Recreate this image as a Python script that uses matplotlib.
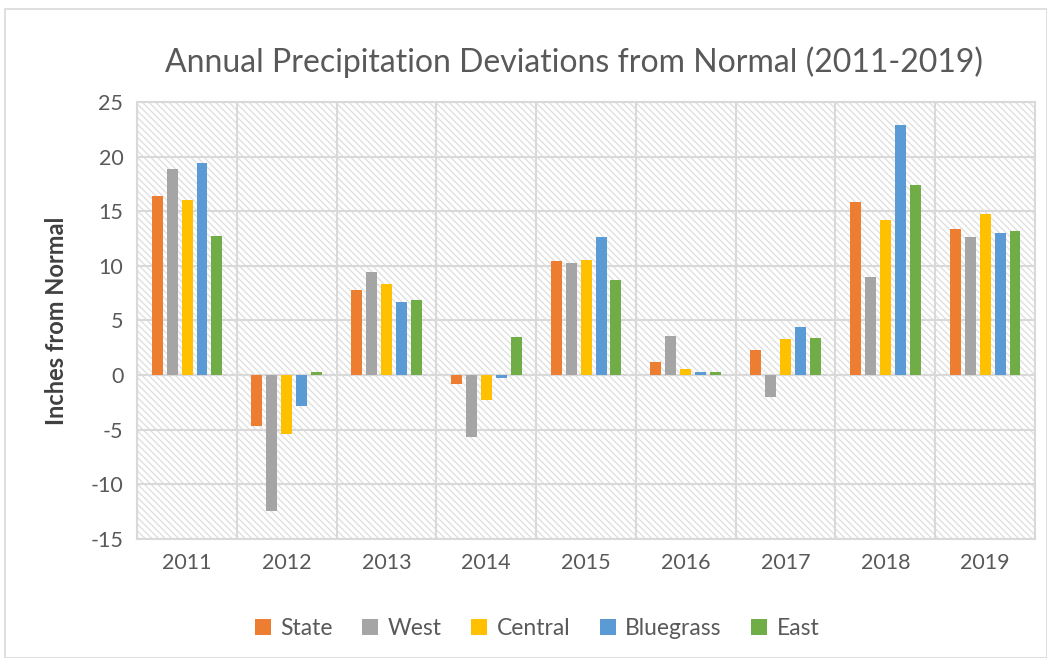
import matplotlib as mpl
mpl.use('Agg')
import matplotlib.pyplot as plt
import numpy as np
from matplotlib.patches import Rectangle

years = ['2011', '2012', '2013', '2014', '2015', '2016', '2017', '2018', '2019']
state = [16.4, -4.7, 7.8, -0.8, 10.4, 1.2, 2.3, 15.8, 13.4]
west = [18.9, -12.4, 9.4, -5.7, 10.3, 3.6, -2.0, 9.0, 12.6]
central = [16.0, -5.4, 8.3, -2.3, 10.5, 0.6, 3.3, 14.2, 14.7]
bluegrass = [19.4, -2.8, 6.7, -0.3, 12.6, 0.3, 4.4, 22.9, 13.0]
east = [12.75, 0.3, 6.9, 3.5, 8.7, 0.3, 3.4, 17.4, 13.2]

series = [('State', state), ('West', west), ('Central', central),
          ('Bluegrass', bluegrass), ('East', east)]
colors = ['#ED7D31', '#A5A5A5', '#FFC000', '#5B9BD5', '#70AD47']

plt.rcParams['font.family'] = ['Lato', 'DejaVu Sans']
plt.rcParams['axes.unicode_minus'] = False
plt.rcParams['hatch.linewidth'] = 1.0
plt.rcParams['hatch.color'] = '#D9D9D9'

fig = plt.figure(figsize=(10.47, 6.58), dpi=100)
fig.patches.append(Rectangle((0.005, 0.0), 0.995, 0.986, transform=fig.transFigure,
                             fill=False, edgecolor='#D9D9D9', linewidth=1.2))
ax = fig.add_axes([0.131, 0.181, 0.8575, 0.664])

# patterned plot area
ax.add_patch(Rectangle((0, 0), 1, 1, transform=ax.transAxes, facecolor='white',
                       hatch='\\\\\\\\\\', edgecolor='#E0E0E0', linewidth=0, zorder=0))

x = np.arange(len(years))
step = 0.15
width = 0.11
for i, (name, vals) in enumerate(series):
    ax.bar(x + (i - 2) * step, vals, width, color=colors[i], label=name, zorder=3)

ax.set_xlim(-0.5, len(years) - 0.5)
ax.set_ylim(-15, 25)
ax.set_yticks(np.arange(-15, 26, 5))
ax.set_xticks(x)
ax.set_xticklabels(years)
ax.set_xticks(np.arange(-0.5, len(years), 1.0), minor=True)
ax.grid(True, axis='y', color='#D9D9D9', linewidth=1.5, zorder=1)
ax.grid(True, axis='x', which='minor', color='#D9D9D9', linewidth=1.5, zorder=1)
ax.axhline(0, color='#D9D9D9', linewidth=1.5, zorder=2)
ax.tick_params(which='both', length=0)
ax.tick_params(axis='both', labelsize=15.5, colors='#595959', pad=10)
for s in ax.spines.values():
    s.set_color('#D9D9D9')
    s.set_linewidth(1.5)

ax.set_ylabel('Inches from Normal', fontsize=17, fontweight='bold', color='#404040', labelpad=16)
fig.text(0.548, 0.906, 'Annual Precipitation Deviations from Normal (2011-2019)',
         ha='center', va='center', fontsize=23, color='#595959')

leg = fig.legend(loc='center', bbox_to_anchor=(0.513, 0.045), ncol=5, frameon=False,
                 fontsize=16.5, handlelength=0.7, handleheight=0.7, columnspacing=1.3,
                 handletextpad=0.4)
for t in leg.get_texts():
    t.set_color('#595959')

fig.savefig('out.png', dpi=100)
